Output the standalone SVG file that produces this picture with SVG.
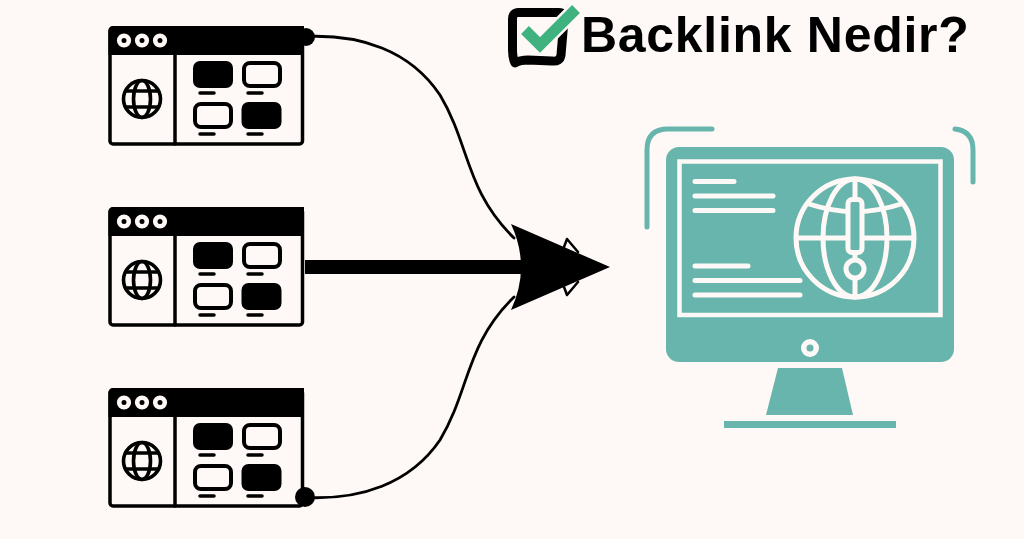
<svg xmlns="http://www.w3.org/2000/svg" width="1024" height="539" viewBox="0 0 1024 539">
<style>
.k{fill:none;stroke:#000;stroke-linecap:round;stroke-linejoin:round}
.b{fill:#000}
.w{fill:none;stroke:#fef9f7;stroke-linecap:round;stroke-linejoin:round}
.r{fill:none;stroke:#fef9f7;stroke-width:4.600}
.t{fill:#67b5ac}
.tl{fill:none;stroke:#67b5ac;stroke-width:5;stroke-linecap:round}
.dot{fill:#fef9f7}
</style>
<defs>
<g id="win">
<rect class="k" x="110" y="28" width="192.500" height="116" rx="3" stroke-width="3.500"/>
<path class="b" d="M108.500 55V31Q108.500 26 113.500 26H304V55Z"/>
<line class="k" x1="175" y1="55" x2="175" y2="144" stroke-width="3.500"/>
<circle class="r" cx="124" cy="40.500" r="4.800"/>
<circle class="r" cx="142" cy="40.500" r="4.800"/>
<circle class="r" cx="160" cy="40.500" r="4.800"/>
<rect class="b" x="193" y="61" width="40" height="27" rx="7"/>
<rect class="k" x="244" y="63" width="36" height="23" rx="6" stroke-width="4"/>
<rect class="k" x="195" y="104" width="36" height="23" rx="6" stroke-width="4"/>
<rect class="b" x="241.500" y="102" width="40" height="27" rx="7"/>
<path class="k" stroke-width="3.500" d="M200 93H214M248 93H262M200 134H214M248 134H262"/>
<g class="k" stroke-width="3.600">
<circle cx="142" cy="99" r="18.500"/>
<ellipse cx="142" cy="99" rx="8.500" ry="18.500"/>
<path d="M126 91H158M126 107H158"/>
</g>
</g>
</defs>
<rect width="1024" height="539" fill="#fef9f7"/>
<g id="connectors">
<path class="k" stroke-width="2.800" d="M305 36.500C360 34 410 50 440 95C470 145 465 190 514 238"/>
<path class="k" stroke-width="2.800" d="M305 497.500C360 500 410 484 440 440C470 390 465 345 514 297"/>
<rect class="b" x="305" y="260" width="222" height="14"/>
<circle class="b" cx="306" cy="37" r="9"/>
<circle class="b" cx="305" cy="497" r="10"/>
<path class="b" d="M511 224L610 267L511 310Q531 267 511 224Z"/>
<path class="k" stroke-width="2.500" d="M564 247L567 239L578 252M564 287L567 295L578 282"/>
</g>
<g id="node-site-1"><use href="#win"/></g>
<g id="node-site-2"><use href="#win" y="181"/></g>
<g id="node-site-3"><use href="#win" y="362"/></g>
<g id="node-monitor">
<path class="tl" d="M647 227V150Q647 129 668 129H712"/>
<path class="tl" d="M955 129Q973 131 973 150V182"/>
<rect class="t" x="666" y="147" width="288" height="215" rx="13"/>
<rect x="679.500" y="161.500" width="261" height="153.500" fill="none" stroke="#fef9f7" stroke-width="4.500"/>
<path class="w" stroke-width="5" d="M695 181.500H734M695 196H773M695 210.500H773M695 266H748M695 280.500H800M695 295H800"/>
<g class="w" stroke-width="5">
<circle cx="855" cy="238" r="59"/>
<path d="M797 238H913"/>
<ellipse cx="855" cy="238" rx="32" ry="59"/>
<path d="M855 179V297"/>
<path d="M809 204Q830 211 855 212Q880 211 901 204"/>
<rect class="t" x="848" y="199.500" width="14" height="53" rx="4"/>
<circle class="t" cx="855" cy="269" r="9"/>
</g>
<circle class="dot" cx="810" cy="348" r="9"/>
<circle class="t" cx="810" cy="348" r="3.500"/>
<path class="t" d="M778 368H842L853 415H766Z"/>
<rect class="t" x="724" y="421" width="172" height="7"/>
</g>
<g id="title">
<path class="k" stroke-width="9" d="M518 12.500H558Q565 12 564 20L561 55Q560 62 552 61L528 60Q520 60 515 63Q512.500 58 512.500 50V20Q512 13 518 12.500Z"/>
<path d="M525 30L540 45L576 9" fill="none" stroke="#fef9f7" stroke-width="16"/>
<path d="M525 30L540 45L576 9" fill="none" stroke="#3fb27f" stroke-width="11"/>
<text x="581" y="52" font-family="Liberation Sans, Arial, sans-serif" font-weight="700" font-size="50" letter-spacing="0.700">Backlink Nedir?</text>
</g>
</svg>
